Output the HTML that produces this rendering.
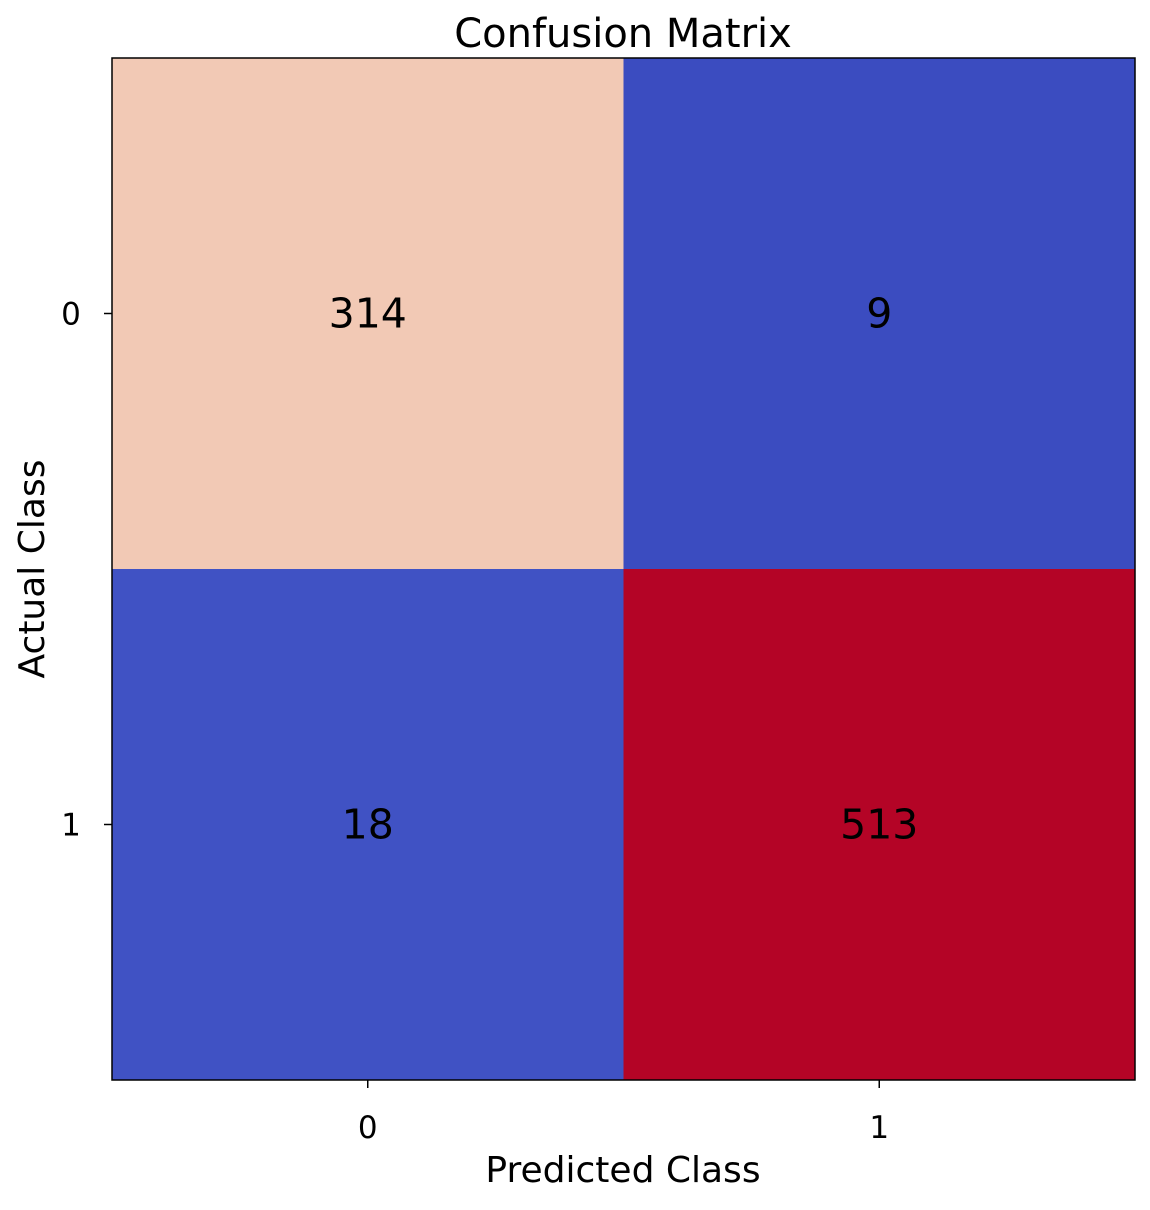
<!DOCTYPE html>
<html><head><meta charset="utf-8"><style>
body{margin:0;background:#fff;}
svg text{font-family:"DejaVu Sans","Liberation Sans",sans-serif;}
</style></head><body>
<svg id="chart" width="1150" height="1205" xmlns="http://www.w3.org/2000/svg">
<text x="623" y="47" font-size="40" text-anchor="middle">Confusion Matrix</text>
<g id="cells"></g>
<rect x="112" y="58" width="1023" height="1022" fill="none" stroke="#000" stroke-width="1.5"/>
<g id="ticks"></g>
<text x="623" y="1182" font-size="36" text-anchor="middle">Predicted Class</text>
<text x="0" y="0" font-size="36" text-anchor="middle" transform="translate(44,569) rotate(-90)">Actual Class</text>
</svg>
<script>
const classes = ["0","1"];
const values = [[314,9],[18,513]];
const tickLabels = ["0","1"];
const L=112,T=58,W=1023,H=1022;
const ns="http://www.w3.org/2000/svg";
const stops=[[0,[59,76,192]],[0.25,[124,159,249]],[0.5,[221,221,221]],[0.6,[242,203,183]],[0.75,[244,154,123]],[1,[180,4,38]]];
function cmap(t){for(let i=1;i<stops.length;i++){if(t<=stops[i][0]){const a=stops[i-1],b=stops[i];const u=(t-a[0])/(b[0]-a[0]);return 'rgb('+a[1].map((v,k)=>Math.round(v+(b[1][k]-v)*u)).join(',')+')';}}return 'rgb(180,4,38)';}
const flat=values.flat();const mn=Math.min(...flat),mx=Math.max(...flat);
const n=classes.length,cw=W/n,ch=H/n;
const xs=j=>L+cw*(j+0.5), ys=i=>T+ch*(i+0.5);
const cells=document.getElementById('cells'),ticks=document.getElementById('ticks');
values.forEach((row,i)=>row.forEach((v,j)=>{
 const r=document.createElementNS(ns,'rect');
 r.setAttribute('x',L+cw*j);r.setAttribute('y',T+ch*i);r.setAttribute('width',cw+0.5);r.setAttribute('height',ch+0.5);
 r.setAttribute('fill',cmap((v-mn)/(mx-mn)));
 
 
 cells.appendChild(r);
 const t=document.createElementNS(ns,'text');
 t.setAttribute('x',xs(j));t.setAttribute('y',ys(i)+14);t.setAttribute('font-size','41');t.setAttribute('text-anchor','middle');
 t.textContent=v;
 
 
 cells.appendChild(t);
}));
tickLabels.forEach((lab,k)=>{
 const lx=document.createElementNS(ns,'line');
 lx.setAttribute('x1',xs(k));lx.setAttribute('x2',xs(k));lx.setAttribute('y1',T+H);lx.setAttribute('y2',T+H+8);lx.setAttribute('stroke','#000');lx.setAttribute('stroke-width','1.5');
 
 
 ticks.appendChild(lx);
 const tx=document.createElementNS(ns,'text');
 tx.setAttribute('x',xs(k));tx.setAttribute('y',T+H+58);tx.setAttribute('font-size','31');tx.setAttribute('text-anchor','middle');tx.textContent=lab;
 
 
 ticks.appendChild(tx);
 const ly=document.createElementNS(ns,'line');
 ly.setAttribute('x1',L-8);ly.setAttribute('x2',L);ly.setAttribute('y1',ys(k));ly.setAttribute('y2',ys(k));ly.setAttribute('stroke','#000');ly.setAttribute('stroke-width','1.5');
 
 
 ticks.appendChild(ly);
 const ty=document.createElementNS(ns,'text');
 ty.setAttribute('x',L-41);ty.setAttribute('y',ys(k)+11);ty.setAttribute('font-size','31');ty.setAttribute('text-anchor','middle');ty.textContent=lab;
 
 
 ticks.appendChild(ty);
});
</script>
</body></html>
